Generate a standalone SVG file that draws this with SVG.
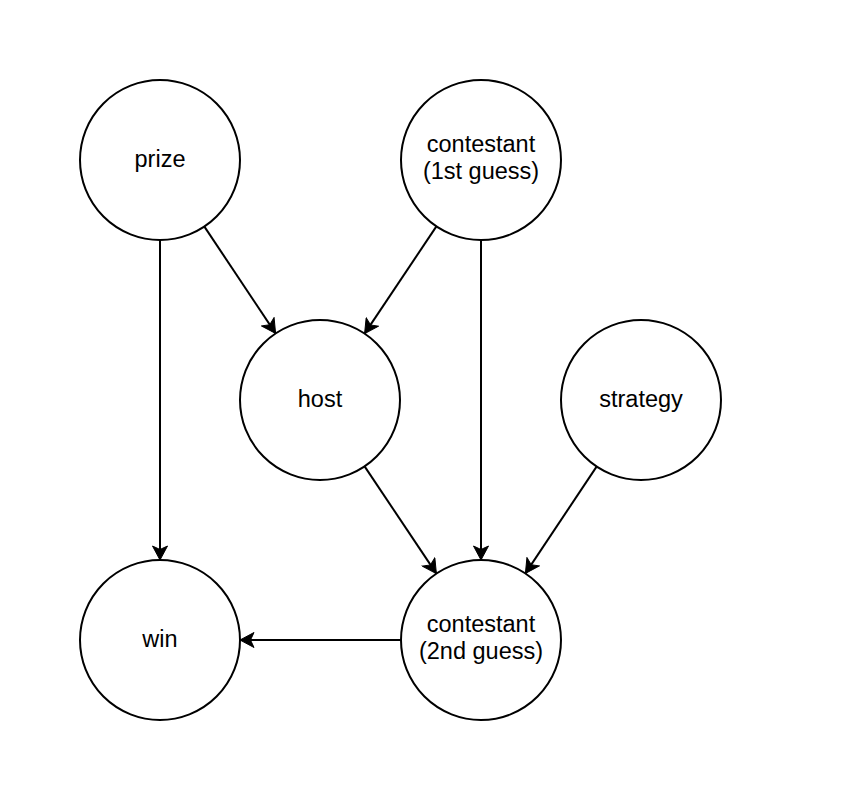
<svg xmlns="http://www.w3.org/2000/svg" width="842" height="802" viewBox="0 0 842 802">
<style>
  .node circle { fill: #ffffff; stroke: #000000; stroke-width: 2; }
  .node text { font-family: "Liberation Sans", Arial, Helvetica, sans-serif; font-size: 23.5px; fill: #000000; text-anchor: middle; }
  .edge { stroke: #000000; stroke-width: 2; fill: none; marker-end: url(#arrow); }
</style>
<defs>
  <marker id="arrow" markerUnits="userSpaceOnUse" markerWidth="16" markerHeight="16" refX="15" refY="8" orient="auto" viewBox="0 0 16 16">
    <path d="M1,0.5 L15,8 L1,15.5 L4.5,8 Z" fill="#000000" stroke="#000000" stroke-width="1" stroke-linejoin="miter"/>
  </marker>
</defs>
<rect width="842" height="802" fill="#ffffff"/>
<g id="connectors">
  <line class="edge" x1="204.4" y1="226.6" x2="275.6" y2="333.4"/>
  <line class="edge" x1="436.4" y1="226.4" x2="364.6" y2="333.6"/>
  <line class="edge" x1="160" y1="240" x2="160" y2="560"/>
  <line class="edge" x1="481" y1="240" x2="481" y2="560"/>
  <line class="edge" x1="364.6" y1="466.4" x2="436.4" y2="573.6"/>
  <line class="edge" x1="596.6" y1="466.6" x2="525.4" y2="573.4"/>
  <line class="edge" x1="401" y1="640" x2="240" y2="640"/>
</g>
<g id="prize" class="node">
  <circle cx="160" cy="160" r="80"/>
  <text x="160" y="167">prize</text>
</g>
<g id="contestant1" class="node">
  <circle cx="481" cy="160" r="80"/>
  <text x="481" y="152">contestant</text>
  <text x="481" y="179">(1st guess)</text>
</g>
<g id="host" class="node">
  <circle cx="320" cy="400" r="80"/>
  <text x="320" y="407">host</text>
</g>
<g id="strategy" class="node">
  <circle cx="641" cy="400" r="80"/>
  <text x="641" y="407">strategy</text>
</g>
<g id="win" class="node">
  <circle cx="160" cy="640" r="80"/>
  <text x="160" y="647">win</text>
</g>
<g id="contestant2" class="node">
  <circle cx="481" cy="640" r="80"/>
  <text x="481" y="632">contestant</text>
  <text x="481" y="659">(2nd guess)</text>
</g>
</svg>
